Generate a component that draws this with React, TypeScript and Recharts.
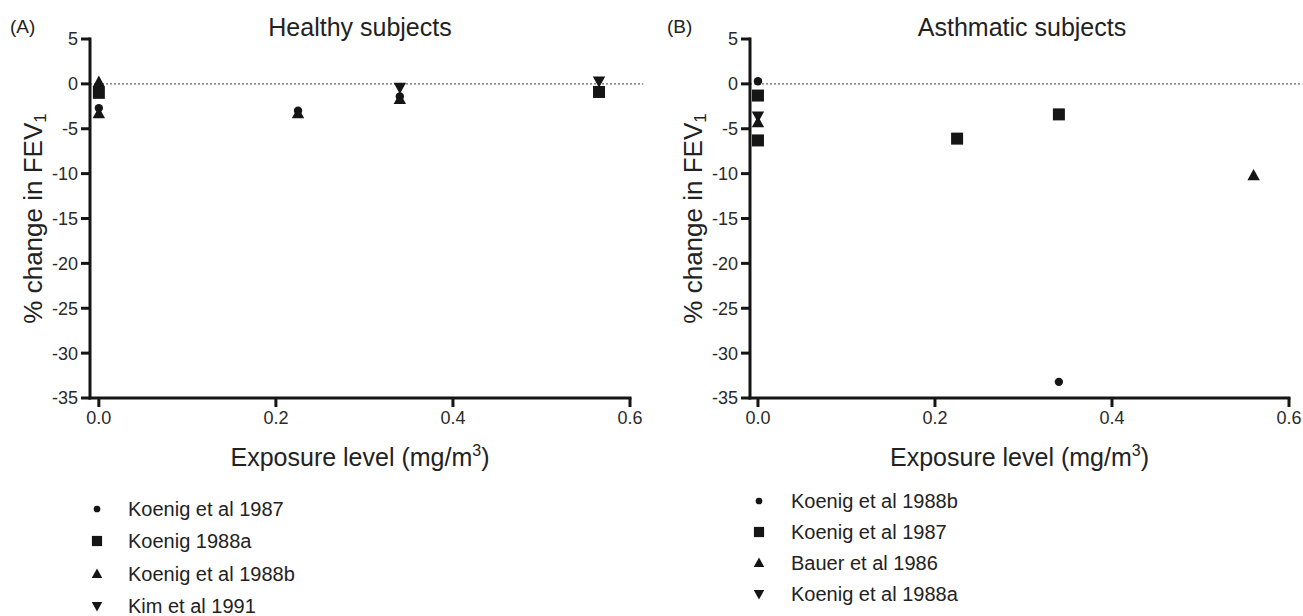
import React from 'react';
import { ScatterChart, Scatter, XAxis, YAxis, ReferenceLine, Label } from 'recharts';

const FONT = '"Liberation Sans", Arial, Helvetica, sans-serif';
const INK = '#151515';

// (A) healthy subjects
const healthyKoenig1987 = [
  { x: 0, y: -2.7 },
  { x: 0.225, y: -3.0 },
  { x: 0.34, y: -1.4 },
];
const healthyKoenig1988a = [
  { x: 0, y: -1.0 },
  { x: 0.565, y: -0.9 },
];
const healthyKoenig1988b = [
  { x: 0, y: 0.2 },
  { x: 0, y: -3.3 },
  { x: 0.225, y: -3.3 },
  { x: 0.34, y: -1.7 },
];
const healthyKim1991 = [
  { x: 0.34, y: -0.4 },
  { x: 0.565, y: 0.3 },
];

// (B) asthmatic subjects
const asthmaKoenig1988b = [
  { x: 0, y: 0.3 },
  { x: 0.34, y: -33.2 },
];
const asthmaKoenig1987 = [
  { x: 0, y: -1.3 },
  { x: 0, y: -6.3 },
  { x: 0.225, y: -6.1 },
  { x: 0.34, y: -3.4 },
];
const asthmaBauer1986 = [
  { x: 0, y: -4.3 },
  { x: 0.56, y: -10.2 },
];
const asthmaKoenig1988a = [
  { x: 0, y: -3.6 },
];

const yTicks = [5, 0, -5, -10, -15, -20, -25, -30, -35];
const xTicks = [0, 0.2, 0.4, 0.6];

const healthyLegend = ['Koenig et al 1987', 'Koenig 1988a', 'Koenig et al 1988b', 'Kim et al 1991'];
const asthmaLegend = ['Koenig et al 1988b', 'Koenig et al 1987', 'Bauer et al 1986', 'Koenig et al 1988a'];

type Mark = 'circle' | 'square' | 'up' | 'down';

function Marker({ kind, cx, cy, s = 1 }: { kind: Mark; cx: number; cy: number; s?: number }) {
  if (kind === 'circle') return <circle cx={cx} cy={cy} r={4.2 * s} fill={INK} />;
  if (kind === 'square') {
    const h = 6 * s;
    return <rect x={cx - h} y={cy - h} width={h * 2} height={h * 2} fill={INK} />;
  }
  const w = 6.2 * s;
  const t = 6.5 * s;
  const b = 4.8 * s;
  if (kind === 'up') {
    return <polygon points={`${cx},${cy - t} ${cx + w},${cy + b} ${cx - w},${cy + b}`} fill={INK} />;
  }
  return <polygon points={`${cx},${cy + t} ${cx + w},${cy - b} ${cx - w},${cy - b}`} fill={INK} />;
}

const shape = (kind: Mark) => (p: any) => <Marker kind={kind} cx={p.cx} cy={p.cy} />;

const TICK = 9;

// tick mark + label drawn together so the mark keeps its weight
function YTick(props: any) {
  const { x, y, payload } = props;
  return (
    <g>
      <line x1={x + 3} x2={x + 3 + TICK} y1={y} y2={y} stroke={INK} strokeWidth={3} />
      <text x={x} y={y} dy="0.36em" textAnchor="end" fontSize={18} fill="#2a2a2a" fontFamily={FONT}>
        {payload.value}
      </text>
    </g>
  );
}

function XTick(props: any) {
  const { x, y, payload } = props;
  return (
    <g>
      <line x1={x} x2={x} y1={y - 4 - TICK} y2={y - 4} stroke={INK} strokeWidth={3} />
      <text x={x} y={y} dy="0.71em" textAnchor="middle" fontSize={18} fill="#2a2a2a" fontFamily={FONT}>
        {Number(payload.value).toFixed(1)}
      </text>
    </g>
  );
}

function yLabel(cx: number) {
  return (props: any) => {
    const vb = props.viewBox;
    const cy = vb.y + vb.height / 2;
    return (
      <text
        transform={`translate(${cx},${cy}) rotate(-90)`}
        textAnchor="middle"
        dominantBaseline="central"
        fontSize={26}
        fill="#222"
        fontFamily={FONT}
      >
        % change in FEV
        <tspan fontSize={17} dy={7}>1</tspan>
      </text>
    );
  };
}

function xLabel(props: any) {
  const vb = props.viewBox;
  return (
    <text x={vb.x + vb.width / 2} y={vb.y + 68} textAnchor="middle" fontSize={25} fill="#222" fontFamily={FONT}>
      Exposure level (mg/m
      <tspan fontSize={16} dy={-10}>3</tspan>
      <tspan dy={10}>)</tspan>
    </text>
  );
}

interface Series {
  data: { x: number; y: number }[];
  kind: Mark;
}

function Panel({
  series,
  width,
  marginLeft,
  marginRight,
  xMin,
  labelX,
}: {
  series: Series[];
  width: number;
  marginLeft: number;
  marginRight: number;
  xMin: number;
  labelX: number;
}) {
  return (
    <ScatterChart
      width={width}
      height={616}
      margin={{ top: 39, right: marginRight, bottom: 158, left: marginLeft }}
    >
      <XAxis
        type="number"
        dataKey="x"
        domain={[xMin, 0.6]}
        ticks={xTicks}
        allowDataOverflow
        height={60}
        tickSize={TICK}
        tickMargin={4}
        axisLine={false}
        tickLine={false}
        tick={<XTick />}
      >
        <Label content={xLabel} />
      </XAxis>
      <YAxis
        type="number"
        dataKey="y"
        domain={[-35, 5]}
        ticks={yTicks}
        allowDataOverflow
        width={60}
        tickSize={TICK}
        tickMargin={3}
        axisLine={false}
        tickLine={false}
        tick={<YTick />}
      >
        <Label content={yLabel(labelX)} />
      </YAxis>
      <ReferenceLine
        segment={[{ x: xMin, y: 0 }, { x: 0.615, y: 0 }]}
        ifOverflow="visible"
        stroke="#666"
        strokeWidth={1.2}
        strokeDasharray="2 2"
      />
      <ReferenceLine
        segment={[{ x: xMin, y: 5 }, { x: xMin, y: -35 }]}
        stroke={INK}
        strokeWidth={3}
        strokeLinecap="square"
      />
      <ReferenceLine
        segment={[{ x: xMin, y: -35 }, { x: 0.6, y: -35 }]}
        stroke={INK}
        strokeWidth={3}
        strokeLinecap="square"
      />
      {series.map((s, i) => (
        <Scatter key={i} data={s.data} shape={shape(s.kind)} isAnimationActive={false} />
      ))}
    </ScatterChart>
  );
}

const kinds: Mark[] = ['circle', 'square', 'up', 'down'];

function Legend({ names, x, textX, rows }: { names: string[]; x: number; textX: number; rows: number[] }) {
  return (
    <g>
      {names.map((n, i) => (
        <g key={n}>
          <Marker kind={kinds[i]} cx={x} cy={rows[i]} s={i === 0 ? 0.8 : 0.85} />
          <text x={textX} y={rows[i] + 7} fontSize={20} fill="#222" fontFamily={FONT}>
            {n}
          </text>
        </g>
      ))}
    </g>
  );
}

export default function App() {
  const healthy: Series[] = [
    { data: healthyKoenig1987, kind: 'circle' },
    { data: healthyKoenig1988a, kind: 'square' },
    { data: healthyKoenig1988b, kind: 'up' },
    { data: healthyKim1991, kind: 'down' },
  ];
  const asthma: Series[] = [
    { data: asthmaKoenig1988b, kind: 'circle' },
    { data: asthmaKoenig1987, kind: 'square' },
    { data: asthmaBauer1986, kind: 'up' },
    { data: asthmaKoenig1988a, kind: 'down' },
  ];
  return (
    <div style={{ position: 'fixed', left: 0, top: 0, width: 1303, height: 616, background: '#fff', overflow: 'hidden' }}>
      <style>{'.recharts-surface{overflow:visible}'}</style>
      <div style={{ position: 'absolute', left: 0, top: 0 }}>
        <Panel series={healthy} width={650} marginLeft={30} marginRight={20} xMin={-0.01} labelX={33} />
      </div>
      <div style={{ position: 'absolute', left: 650, top: 0 }}>
        <Panel series={asthma} width={653} marginLeft={40} marginRight={14} xMin={-0.009} labelX={43} />
      </div>
      <svg width={1303} height={616} style={{ position: 'absolute', left: 0, top: 0, pointerEvents: 'none' }}>
        <text x={10} y={33} fontSize={19} fill="#222" fontFamily={FONT}>(A)</text>
        <text x={360} y={36} textAnchor="middle" fontSize={25} fill="#222" fontFamily={FONT}>Healthy subjects</text>
        <text x={667} y={33} fontSize={19} fill="#222" fontFamily={FONT}>(B)</text>
        <text x={1022} y={36} textAnchor="middle" fontSize={25} fill="#222" fontFamily={FONT}>Asthmatic subjects</text>
        <Legend names={healthyLegend} x={97} textX={128} rows={[509, 541, 574, 606]} />
        <Legend names={asthmaLegend} x={759} textX={791} rows={[501, 532, 563, 594]} />
      </svg>
    </div>
  );
}
